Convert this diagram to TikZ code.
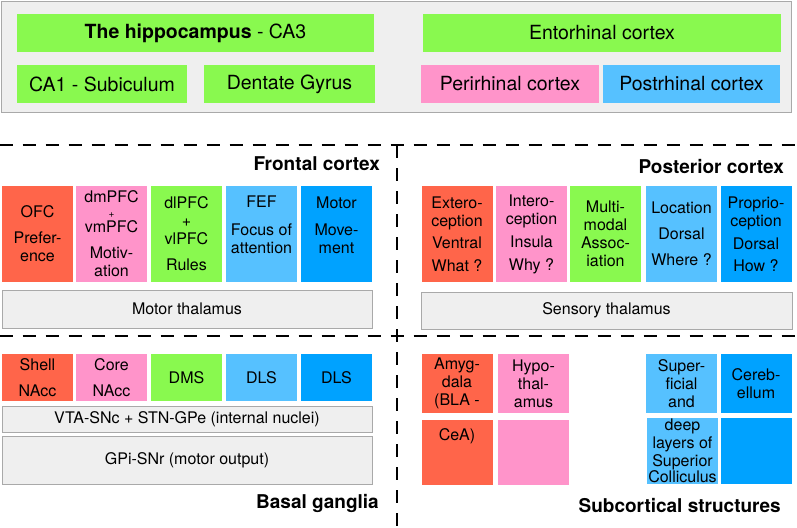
\documentclass[tikz,border=0pt]{standalone}
\usepackage{fontspec}
\setmainfont{TeX Gyre Heros}
\definecolor{cRed}{HTML}{FF654A}
\definecolor{cPink}{HTML}{FF94CA}
\definecolor{cGreen}{HTML}{89F94F}
\definecolor{cSky}{HTML}{56C1FF}
\definecolor{cBlue}{HTML}{00A2FF}
\definecolor{boxgray}{HTML}{EFEFEF}
\definecolor{linegray}{HTML}{A9A9A9}
\tikzset{
    region/.style={draw=linegray, fill=boxgray, line width=0.8pt, inner sep=0pt},
    topbox/.style={inner sep=0pt, minimum height=38pt, font=\fontsize{19.5}{22}\selectfont},
    cell/.style={inner sep=0pt, minimum width=71pt, align=center, font=\fontsize{16}{18}\selectfont},
    bar/.style={region, minimum width=370pt, font=\fontsize{16}{18}\selectfont},
    title/.style={anchor=east, inner sep=0pt, font=\fontsize{19}{22}\selectfont\bfseries},
    divider/.style={line width=2pt, dash pattern=on 13pt off 10pt},
}
\begin{document}
\begin{tikzpicture}[x=1pt, y=-1pt]
    \useasboundingbox (0,0) rectangle (797,527);
    % hippocampal formation
    \node[region, minimum width=790pt, minimum height=111pt] (hfarea) at (396,56.5) {};
    \node[topbox, fill=cGreen, minimum width=357pt] (ca3) at (195.5,33) {\textbf{The hippocampus} - CA3};
    \node[topbox, fill=cGreen, minimum width=170pt] (ca1) at (102,84) {CA1 - Subiculum};
    \node[topbox, fill=cGreen, minimum width=171pt] (dg) at (289.5,84) {Dentate Gyrus};
    \node[topbox, fill=cGreen, minimum width=358pt] (ento) at (602,33) {Entorhinal cortex};
    \node[topbox, fill=cPink, minimum width=178pt] (peri) at (510,84) {Perirhinal cortex};
    \node[topbox, fill=cSky, minimum width=177pt] (post) at (691.5,84) {Postrhinal cortex};
    % dividers
    \coordinate (h1l) at (0,145);
    \coordinate (h1r) at (797,145);
    \coordinate (h2l) at (0,335.5);
    \coordinate (h2r) at (797,335.5);
    \coordinate (vt) at (397,145);
    \coordinate (vb) at (397,527);
    \draw[divider, dash phase=0.5pt] (h1l) -- (h1r);
    \draw[divider, dash phase=0.5pt] (h2l) -- (h2r);
    \draw[divider] (vt) -- (vb);
    % frontal cortex
    \node[title] (frontal) at (380,164) {Frontal cortex};
    \node[cell, fill=cRed, minimum height=96pt] (ofc) at (37.5,234) {OFC\\[8pt]Prefer-\\ence};
    \node[cell, fill=cPink, minimum height=96pt] (pfc) at (111.5,234) {dmPFC\\[-3pt]{\fontsize{10}{10}\selectfont +}\\[-3pt]vmPFC\\[8pt]Motiv-\\ation};
    \node[cell, fill=cGreen, minimum height=96pt] (lpfc) at (186.5,234) {dlPFC\\+\\vlPFC\\[8pt]Rules};
    \node[cell, fill=cSky, minimum height=96pt] (fef) at (261.5,234) {FEF\\[10pt]Focus of\\attention\\~};
    \node[cell, fill=cBlue, minimum height=96pt] (motor) at (336.5,234) {Motor\\[9pt]Move-\\ment\\~};
    \node[bar, minimum height=38pt] (mthal) at (187,309) {Motor thalamus};
    % posterior cortex
    \node[title] (posterior) at (784,167) {Posterior cortex};
    \node[cell, fill=cRed, minimum height=96pt] (extero) at (457,234) {Extero-\\ception\\[4pt]Ventral\\[5pt]What ?};
    \node[cell, fill=cPink, minimum height=96pt] (intero) at (531.5,234) {Intero-\\ception\\[5pt]Insula\\[5pt]Why ?};
    \node[cell, fill=cGreen, minimum height=96pt] (multi) at (605.5,234) {Multi-\\modal\\Assoc-\\iation};
    \node[cell, fill=cSky, minimum height=96pt] (loc) at (681.5,234) {Location\\[8pt]Dorsal\\[8pt]Where ?};
    \node[cell, fill=cBlue, minimum height=96pt] (proprio) at (756,234) {Proprio-\\ception\\[5pt]Dorsal\\[4pt]How ?};
    \node[bar, minimum width=371pt, minimum height=37pt] (sthal) at (606.5,310.5) {Sensory thalamus};
    % basal ganglia
    \node[cell, fill=cRed, minimum height=47pt] (shell) at (37.5,377.5) {Shell\\[8pt]NAcc};
    \node[cell, fill=cPink, minimum height=47pt] (core) at (111.5,377.5) {Core\\[8pt]NAcc};
    \node[cell, fill=cGreen, minimum height=47pt] (dms) at (186.5,377.5) {DMS};
    \node[cell, fill=cSky, minimum height=47pt] (dlsa) at (261.5,377.5) {DLS};
    \node[cell, fill=cBlue, minimum height=47pt] (dlsb) at (336.5,377.5) {DLS};
    \node[bar, minimum height=26pt] (vta) at (187,419) {VTA-SNc + STN-GPe (internal nuclei)};
    \node[bar, minimum height=48pt] (gpi) at (187,460) {GPi-SNr (motor output)\\[-8pt]~};
    \node[title] (basal) at (379,503) {Basal ganglia};
    % subcortical structures
    \node[cell, fill=cRed, minimum height=59pt] (amyga) at (457,383.5) {Amyg-\\dala\\(BLA -};
    \node[cell, fill=cRed, minimum height=65pt] (amygb) at (457,452.5) {CeA)\\~\\~};
    \node[cell, fill=cPink, minimum height=59pt] (hypoa) at (533.5,383.5) {Hypo-\\thal-\\amus};
    \node[cell, fill=cPink, minimum height=65pt] (hypob) at (533.5,452.5) {};
    \node[cell, fill=cSky, minimum height=59pt] (supa) at (681.5,383.5) {Super-\\ficial\\and};
    \node[cell, fill=cSky, minimum height=66pt] (supb) at (682.5,451) {deep\\layers of\\Superior\\[-2pt]Colliculus};
    \node[cell, fill=cBlue, minimum height=59pt] (cereba) at (756,383.5) {Cereb-\\ellum};
    \node[cell, fill=cBlue, minimum height=66pt] (cerebb) at (756,451) {};
    \node[title] (subcort) at (781,506) {Subcortical structures};
\end{tikzpicture}
\end{document}
